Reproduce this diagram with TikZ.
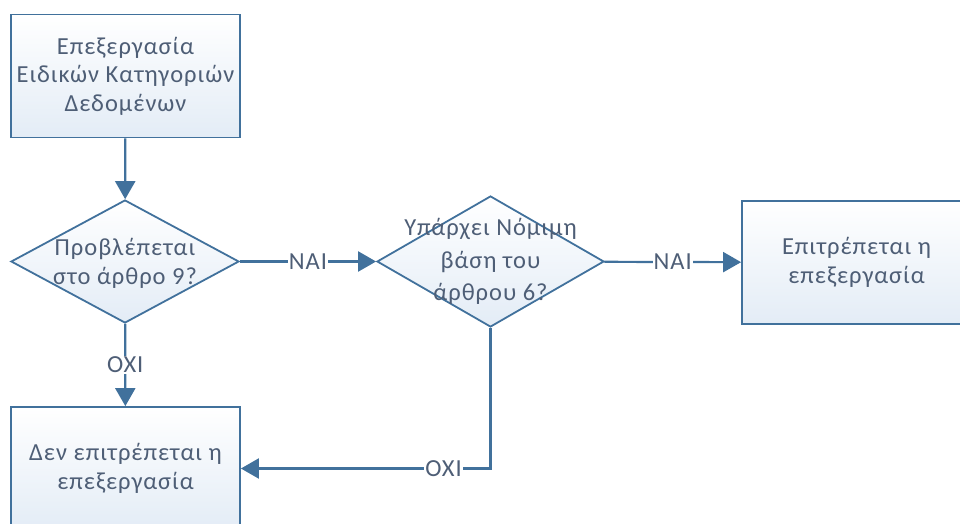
\documentclass[tikz,border=0pt]{standalone}
\usepackage{fontspec}
\setmainfont{Carlito}[LetterSpace=4]
\usetikzlibrary{shapes.geometric,arrows.meta}
\definecolor{linec}{HTML}{41719C}
\definecolor{textc}{HTML}{4E5E76}
\definecolor{fillb}{HTML}{E3ECF6}
\begin{document}
\begin{tikzpicture}[x=1pt,y=-1pt,
  font=\fontsize{24.5}{28.5}\selectfont, text=textc,
  box/.style={draw=linec, line width=1.8pt, top color=white, bottom color=fillb, minimum width=229pt, minimum height=123pt, inner sep=0pt, align=center},
  dec/.style={draw=linec, line width=1.8pt, diamond, top color=white, bottom color=fillb, minimum width=228pt, inner sep=0pt},
  conn/.style={draw=linec, line width=2.2pt, -{Triangle[length=18pt,width=20pt]}},
  lab/.style={fill=white, inner sep=1pt, text=textc}
]
\useasboundingbox (0,0) rectangle (960,524);
\begin{scope}
\clip (0,0) rectangle (960,524);
\node[box] (b1) at (125.5,76) {Επεξεργασία\\Ειδικών Κατηγοριών\\Δεδομένων};
\node[dec, minimum height=123pt, label={[align=center, text=textc, yshift=-2pt]center:Προβλέπεται\\στο άρθρο 9?}] (d1) at (125,261.5) {};
\node[dec, minimum height=131pt, minimum width=227pt, label={[align=center, text=textc, font=\fontsize{24.5}{32.5}\selectfont]center:Υπάρχει Νόμιμη\\βάση του\\άρθρου 6?}] (d2) at (490.5,261.5) {};
\node[box] (b3) at (856.5,262.5) {Επιτρέπεται η\\επεξεργασία};
\node[box] (b4) at (125.5,468.5) {Δεν επιτρέπεται η\\επεξεργασία};
\draw[conn] (b1) -- (d1);
\draw[conn] (d1) -- node[lab] {ΝΑΙ} (d2);
\draw[conn] (d2) -- node[lab] {ΝΑΙ} (b3);
\draw[conn] (d1) -- node[lab] {ΟΧΙ} (b4);
\draw[conn] (d2.south) |- node[lab, pos=0.594] {ΟΧΙ} (b4.east);
\end{scope}
\end{tikzpicture}
\end{document}
